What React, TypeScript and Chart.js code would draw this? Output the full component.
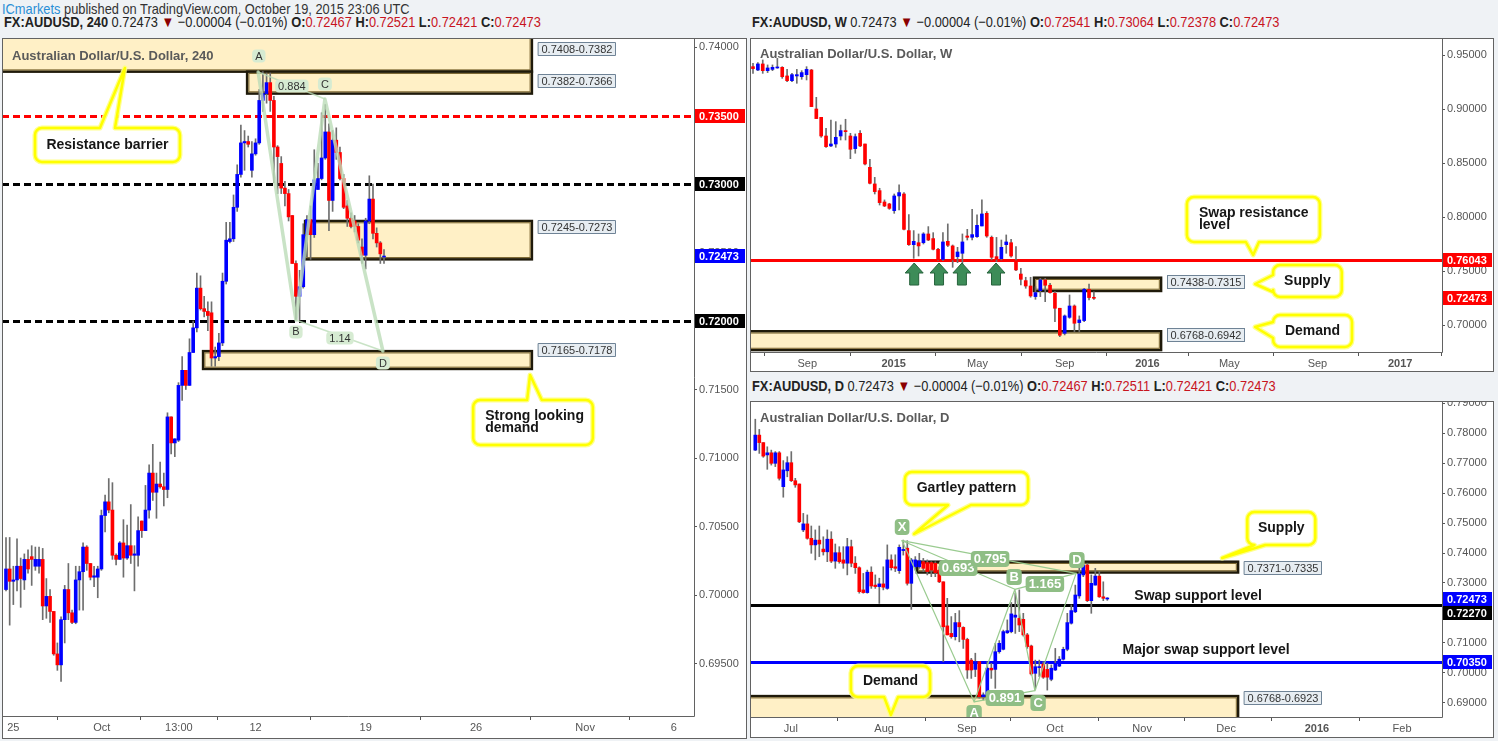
import { useEffect, useRef } from 'react';
import { Chart, registerables } from 'chart.js';

Chart.register(...registerables);

const SANS = "'Liberation Sans', Arial, sans-serif";
const UP = '#0000ff';
const DOWN = '#ff0000';
const WICK = '#6e6e6e';
const ZONE_FILL = '#fff0c6';
const ZONE_EDGE = '#1f1a0a';

// ---------------- 4H candles (Sep 24 - Oct 19, 2015) ----------------
const H4_OPEN = [
  0.7004, 0.7019, 0.7010, 0.7011, 0.7021, 0.7011, 0.7026, 0.7028, 0.7021, 0.7021,
  0.7026, 0.6992, 0.6999, 0.6988, 0.6957, 0.6949, 0.6982, 0.7004, 0.6987, 0.6980,
  0.7011, 0.7017, 0.7035, 0.7023, 0.7013, 0.7013, 0.7019, 0.7058, 0.7068, 0.7062,
  0.7029, 0.7026, 0.7038, 0.7027, 0.7036, 0.7029, 0.7029, 0.7054, 0.7047, 0.7062,
  0.7089, 0.7075, 0.7081, 0.7079, 0.7077, 0.7130, 0.7111, 0.7113, 0.7153, 0.7164,
  0.7153, 0.7177, 0.7195, 0.7224, 0.7209, 0.7207, 0.7206, 0.7173, 0.7174, 0.7184,
  0.7229, 0.7258, 0.7260, 0.7283, 0.7307, 0.7330, 0.7331, 0.7310, 0.7322, 0.7330,
  0.7361, 0.7366, 0.7374, 0.7361, 0.7327, 0.7315, 0.7297, 0.7293, 0.7277, 0.7242,
  0.7218, 0.7225, 0.7263, 0.7274, 0.7263, 0.7296, 0.7304, 0.7319, 0.7338, 0.7288,
  0.7332, 0.7323, 0.7304, 0.7284, 0.7275, 0.7273, 0.7269, 0.7254, 0.7248, 0.7273,
  0.7289, 0.7264, 0.7257, 0.72467,
];
const H4_HIGH = [
  0.7042, 0.7042, 0.7021, 0.7041, 0.7027, 0.7030, 0.7033, 0.7036, 0.7035, 0.7035,
  0.7034, 0.7012, 0.7004, 0.6988, 0.6965, 0.6984, 0.7007, 0.7023, 0.6989, 0.7021,
  0.7021, 0.7038, 0.7036, 0.7023, 0.7021, 0.7021, 0.7062, 0.7073, 0.7085, 0.7082,
  0.7030, 0.7039, 0.7055, 0.7051, 0.7066, 0.7036, 0.7057, 0.7054, 0.7080, 0.7095,
  0.7110, 0.7089, 0.7097, 0.7089, 0.7133, 0.7130, 0.7114, 0.7155, 0.7174, 0.7164,
  0.7187, 0.7200, 0.7235, 0.7233, 0.7218, 0.7214, 0.7214, 0.7181, 0.7191, 0.7235,
  0.7272, 0.7272, 0.7292, 0.7314, 0.7343, 0.7339, 0.7335, 0.7331, 0.7333, 0.7369,
  0.7382, 0.7381, 0.7381, 0.7364, 0.7328, 0.7320, 0.7302, 0.7296, 0.7277, 0.7244,
  0.7237, 0.7271, 0.7277, 0.7284, 0.7325, 0.7315, 0.7352, 0.7358, 0.7344, 0.7339,
  0.7341, 0.7327, 0.7307, 0.7288, 0.7279, 0.7277, 0.7271, 0.7260, 0.7275, 0.7306,
  0.7300, 0.7268, 0.7258, 0.72521,
];
const H4_LOW = [
  0.7003, 0.6978, 0.6993, 0.7003, 0.6991, 0.7004, 0.7016, 0.7007, 0.7018, 0.7016,
  0.6982, 0.6983, 0.6980, 0.6956, 0.6945, 0.6937, 0.6965, 0.6982, 0.6979, 0.6979,
  0.6989, 0.6989, 0.7018, 0.7011, 0.7006, 0.6998, 0.7018, 0.7046, 0.7060, 0.7026,
  0.7022, 0.7026, 0.7013, 0.7026, 0.7023, 0.7003, 0.7021, 0.7042, 0.7047, 0.7056,
  0.7069, 0.7056, 0.7078, 0.7065, 0.7071, 0.7103, 0.7101, 0.7112, 0.7142, 0.7150,
  0.7153, 0.7177, 0.7192, 0.7208, 0.7203, 0.7193, 0.7167, 0.7167, 0.7171, 0.7182,
  0.7227, 0.7257, 0.7258, 0.7280, 0.7305, 0.7310, 0.7327, 0.7305, 0.7321, 0.7329,
  0.7353, 0.7359, 0.7353, 0.7301, 0.7293, 0.7293, 0.7284, 0.7273, 0.7242, 0.7201,
  0.7201, 0.7224, 0.7247, 0.7245, 0.7261, 0.7296, 0.7303, 0.7318, 0.7266, 0.7280,
  0.7318, 0.7303, 0.7282, 0.7269, 0.7268, 0.7265, 0.7257, 0.7242, 0.7238, 0.7271,
  0.7260, 0.7254, 0.7242, 0.72421,
];
const H4_CLOSE = [
  0.7019, 0.7010, 0.7011, 0.7021, 0.7012, 0.7026, 0.7019, 0.7026, 0.7026, 0.7026,
  0.6992, 0.6999, 0.6988, 0.6957, 0.6949, 0.6982, 0.7004, 0.6987, 0.6980, 0.7011,
  0.7017, 0.7035, 0.7023, 0.7013, 0.7014, 0.7019, 0.7058, 0.7068, 0.7062, 0.7029,
  0.7026, 0.7038, 0.7027, 0.7036, 0.7029, 0.7030, 0.7047, 0.7047, 0.7062, 0.7089,
  0.7075, 0.7081, 0.7079, 0.7077, 0.7130, 0.7111, 0.7114, 0.7153, 0.7164, 0.7153,
  0.7177, 0.7195, 0.7224, 0.7209, 0.7207, 0.7204, 0.7173, 0.7174, 0.7184, 0.7229,
  0.7259, 0.7260, 0.7283, 0.7307, 0.7330, 0.7331, 0.7329, 0.7322, 0.7330, 0.7361,
  0.7366, 0.7374, 0.7361, 0.7327, 0.7320, 0.7297, 0.7293, 0.7276, 0.7242, 0.7218,
  0.7225, 0.7263, 0.7274, 0.7263, 0.7303, 0.7304, 0.7319, 0.7338, 0.7288, 0.7332,
  0.7323, 0.7304, 0.7283, 0.7275, 0.7269, 0.7269, 0.7259, 0.7248, 0.7273, 0.7289,
  0.7264, 0.7257, 0.7249, 0.72473,
];
const H4_TICK_POS = [2.0, 26.1, 47.1, 68.0, 98.0, 128.1, 157.8, 182.0];
const H4_TICK_LABELS = ['25', 'Oct', '13:00', '12', '19', '26', 'Nov', '6'];
const H4_PRICE_TICKS = [0.695, 0.7, 0.705, 0.71, 0.715, 0.72, 0.725, 0.73, 0.735, 0.74];

// ---------------- Weekly candles (Jul 2014 - Oct 2015) ----------------
const W_OPEN = [
  0.9392, 0.9361, 0.9417, 0.9355, 0.9367, 0.9380, 0.9386, 0.9306, 0.9262, 0.9306,
  0.9299, 0.9318, 0.9361, 0.9000, 0.8923, 0.8750, 0.8658, 0.8676, 0.8750, 0.8800,
  0.8750, 0.8633, 0.8775, 0.8676, 0.8460, 0.8306, 0.8244, 0.8139, 0.8121, 0.8059,
  0.8195, 0.8213, 0.7874, 0.7744, 0.7762, 0.7762, 0.7843, 0.7800, 0.7701, 0.7608,
  0.7775, 0.7732, 0.7633, 0.7664, 0.7824, 0.7812, 0.7818, 0.7917, 0.8034, 0.7812,
  0.7633, 0.7614, 0.7744, 0.7762, 0.7596, 0.7472, 0.7411, 0.7361, 0.7263, 0.7318,
  0.7417, 0.7368, 0.7294, 0.7155, 0.6923, 0.7071, 0.7176, 0.7022, 0.7041, 0.7331, 0.72541,
];
const W_HIGH = [
  0.9423, 0.9429, 0.9454, 0.9408, 0.9408, 0.9469, 0.9392, 0.9367, 0.9330, 0.9367,
  0.9355, 0.9392, 0.9367, 0.9108, 0.8923, 0.8821, 0.8898, 0.8883, 0.8852, 0.8905,
  0.8775, 0.8769, 0.8800, 0.8676, 0.8534, 0.8367, 0.8266, 0.8158, 0.8127, 0.8213,
  0.8297, 0.8226, 0.8022, 0.7874, 0.7843, 0.7855, 0.7911, 0.7855, 0.7710, 0.7855,
  0.7936, 0.7741, 0.7719, 0.7843, 0.7886, 0.8071, 0.8019, 0.8158, 0.8050, 0.7824,
  0.7811, 0.7787, 0.7834, 0.7793, 0.7726, 0.7525, 0.7442, 0.7442, 0.7355, 0.7432,
  0.7432, 0.7386, 0.7309, 0.7155, 0.7093, 0.7278, 0.7186, 0.7084, 0.7340, 0.7380, 0.73064,
];
const W_LOW = [
  0.9330, 0.9355, 0.9330, 0.9337, 0.9355, 0.9377, 0.9284, 0.9253, 0.9253, 0.9238,
  0.9275, 0.9269, 0.9022, 0.8911, 0.8738, 0.8645, 0.8651, 0.8645, 0.8713, 0.8713,
  0.8540, 0.8590, 0.8651, 0.8482, 0.8306, 0.8213, 0.8111, 0.8096, 0.8071, 0.8034,
  0.8065, 0.7880, 0.7738, 0.7617, 0.7639, 0.7750, 0.7781, 0.7695, 0.7596, 0.7596,
  0.7726, 0.7534, 0.7577, 0.7540, 0.7787, 0.7787, 0.7812, 0.7917, 0.7812, 0.7602,
  0.7587, 0.7602, 0.7664, 0.7627, 0.7503, 0.7371, 0.7340, 0.7257, 0.7238, 0.7263,
  0.7216, 0.7294, 0.7031, 0.6892, 0.6908, 0.7062, 0.6939, 0.6939, 0.7031, 0.7232, 0.72378,
];
const W_CLOSE = [
  0.9374, 0.9417, 0.9355, 0.9380, 0.9386, 0.9386, 0.9299, 0.9262, 0.9318, 0.9318,
  0.9337, 0.9367, 0.9022, 0.8911, 0.8750, 0.8651, 0.8676, 0.8738, 0.8800, 0.8790,
  0.8627, 0.8744, 0.8658, 0.8491, 0.8312, 0.8235, 0.8133, 0.8102, 0.8080, 0.8195,
  0.8226, 0.7886, 0.7744, 0.7775, 0.7732, 0.7843, 0.7787, 0.7701, 0.7602, 0.7769,
  0.7738, 0.7602, 0.7676, 0.7769, 0.7812, 0.7837, 0.7923, 0.8028, 0.7824, 0.7627,
  0.7608, 0.7719, 0.7769, 0.7639, 0.7510, 0.7423, 0.7361, 0.7269, 0.7300, 0.7417,
  0.7368, 0.7300, 0.7155, 0.6905, 0.7084, 0.7176, 0.7016, 0.7047, 0.7331, 0.7254, 0.72473,
];
const W_TICK_POS = [11.15, 28.9, 46.1, 64.0, 81.0, 97.8, 115.9, 132.9];
const W_TICK_LABELS = ['Sep', '2015', 'May', 'Sep', '2016', 'May', 'Sep', '2017'];
const W_PRICE_TICKS = [0.7, 0.75, 0.8, 0.85, 0.9, 0.95];

// ---------------- Daily candles (Jun 22 - Oct 19, 2015) ----------------
const D_OPEN = [
  0.7743, 0.7793, 0.7768, 0.7727, 0.7734, 0.7699, 0.7734, 0.7621, 0.7674, 0.7701,
  0.7641, 0.7630, 0.7477, 0.7497, 0.7449, 0.7427, 0.7443, 0.7413, 0.7404, 0.7446,
  0.7373, 0.7401, 0.7377, 0.7366, 0.7421, 0.7366, 0.7351, 0.7277, 0.7268, 0.7336,
  0.7293, 0.7288, 0.7297, 0.7282, 0.7377, 0.7354, 0.7341, 0.7408, 0.7416, 0.7299,
  0.7354, 0.7354, 0.7371, 0.7368, 0.7368, 0.7366, 0.7343, 0.7304, 0.7157, 0.7132,
  0.7121, 0.7168, 0.7152, 0.7112, 0.7043, 0.7012, 0.7038, 0.6921, 0.6923, 0.7016,
  0.7012, 0.7071, 0.7079, 0.7134, 0.7138, 0.7186, 0.7182, 0.7179, 0.7127, 0.7090,
  0.6999, 0.7018, 0.7030, 0.7012, 0.6979, 0.7010, 0.7023, 0.7046, 0.7079, 0.7166,
  0.7204, 0.7257, 0.7327, 0.7360, 0.7241, 0.7293, 0.7323, 0.7254, 0.72467,
];
const D_HIGH = [
  0.7846, 0.7812, 0.7768, 0.7754, 0.7743, 0.7738, 0.7738, 0.7708, 0.7721, 0.7738,
  0.7649, 0.7630, 0.7532, 0.7527, 0.7490, 0.7477, 0.7490, 0.7454, 0.7477, 0.7471,
  0.7430, 0.7421, 0.7421, 0.7449, 0.7443, 0.7388, 0.7354, 0.7332, 0.7343, 0.7354,
  0.7327, 0.7316, 0.7354, 0.7427, 0.7394, 0.7394, 0.7427, 0.7443, 0.7441, 0.7382,
  0.7388, 0.7399, 0.7382, 0.7377, 0.7371, 0.7371, 0.7354, 0.7304, 0.7249, 0.7188,
  0.7199, 0.7208, 0.7154, 0.7116, 0.7049, 0.7066, 0.7038, 0.6934, 0.7038, 0.7032,
  0.7099, 0.7108, 0.7143, 0.7177, 0.7235, 0.7267, 0.7277, 0.7199, 0.7132, 0.7093,
  0.7043, 0.7043, 0.7038, 0.7032, 0.7027, 0.7082, 0.7055, 0.7086, 0.7199, 0.7227,
  0.7293, 0.7354, 0.7379, 0.7366, 0.7327, 0.7349, 0.7338, 0.7304, 0.72511,
];
const D_LOW = [
  0.7741, 0.7732, 0.7719, 0.7679, 0.7693, 0.7688, 0.7643, 0.7586, 0.7654, 0.7638,
  0.7619, 0.7501, 0.7471, 0.7446, 0.7399, 0.7377, 0.7388, 0.7393, 0.7371, 0.7368,
  0.7349, 0.7366, 0.7349, 0.7327, 0.7354, 0.7332, 0.7266, 0.7266, 0.7266, 0.7282,
  0.7282, 0.7232, 0.7277, 0.7279, 0.7343, 0.7338, 0.7332, 0.7393, 0.7293, 0.7212,
  0.7343, 0.7349, 0.7338, 0.7327, 0.7321, 0.7321, 0.7301, 0.7038, 0.7127, 0.7116,
  0.7110, 0.7104, 0.7082, 0.6982, 0.6982, 0.6988, 0.6916, 0.6910, 0.6921, 0.6982,
  0.6949, 0.7066, 0.7077, 0.7132, 0.7134, 0.7132, 0.7138, 0.7123, 0.7082, 0.6993,
  0.6946, 0.6988, 0.6982, 0.6943, 0.6974, 0.7008, 0.7021, 0.7043, 0.7074, 0.7163,
  0.7201, 0.7249, 0.7321, 0.7238, 0.7199, 0.7293, 0.7252, 0.7241, 0.72421,
];
const D_CLOSE = [
  0.7793, 0.7768, 0.7723, 0.7734, 0.7699, 0.7734, 0.7649, 0.7677, 0.7701, 0.7641,
  0.7627, 0.7504, 0.7497, 0.7449, 0.7427, 0.7443, 0.7430, 0.7404, 0.7446, 0.7373,
  0.7401, 0.7371, 0.7366, 0.7421, 0.7366, 0.7351, 0.7271, 0.7268, 0.7336, 0.7290,
  0.7288, 0.7297, 0.7286, 0.7377, 0.7351, 0.7349, 0.7419, 0.7412, 0.7299, 0.7377,
  0.7377, 0.7374, 0.7349, 0.7338, 0.7343, 0.7334, 0.7304, 0.7154, 0.7127, 0.7121,
  0.7168, 0.7154, 0.7112, 0.7010, 0.7010, 0.7038, 0.6921, 0.6927, 0.7016, 0.7010,
  0.7071, 0.7099, 0.7138, 0.7141, 0.7197, 0.7193, 0.7160, 0.7127, 0.7088, 0.6997,
  0.7021, 0.7021, 0.6986, 0.6986, 0.7016, 0.7032, 0.7046, 0.7079, 0.7168, 0.7208,
  0.7260, 0.7330, 0.7360, 0.7241, 0.7299, 0.7323, 0.7254, 0.7249, 0.72473,
];
const D_TICK_POS = [8.9, 32.2, 52.9, 74.9, 96.7, 117.7, 140.4, 161.7];
const D_TICK_LABELS = ['Jul', 'Aug', 'Sep', 'Oct', 'Nov', 'Dec', '2016', 'Feb'];
const D_PRICE_TICKS = [0.69, 0.7, 0.71, 0.72, 0.73, 0.74, 0.75, 0.76, 0.77, 0.78, 0.79];

// ---------------- header texts ----------------
const HEADER_240 = ['FX:AUDUSD, 240', '0.72467', '0.72521', '0.72421', '0.72473'];
const HEADER_W = ['FX:AUDUSD, W', '0.72541', '0.73064', '0.72378', '0.72473'];
const HEADER_D = ['FX:AUDUSD, D', '0.72467', '0.72511', '0.72421', '0.72473'];

type XY = [number, number];

interface Panel {
  title: string;
  open: number[]; high: number[]; low: number[]; close: number[];
  xRange: XY; yRange: XY;
  xTicks: number[]; xLabels: string[]; boldLabels: string[];
  yTicks: number[];
  axisW: number; axisH: number; bodyW: number; titleDy: number;
  zones: any[]; hlines: any[]; badges: any[]; callouts: any[];
  tags: any[]; tagStyle: any; polys: any[]; texts: any[]; rects: any[]; arrows: any[];
}

const PANEL_240: Panel = {
  title: 'Australian Dollar/U.S. Dollar, 240',
  open: H4_OPEN, high: H4_HIGH, low: H4_LOW, close: H4_CLOSE,
  xRange: [-1.09, 187.47], yRange: [0.691168, 0.740657],
  xTicks: H4_TICK_POS, xLabels: H4_TICK_LABELS, boldLabels: [],
  yTicks: H4_PRICE_TICKS,
  axisW: 53, axisH: 23, bodyW: 3, titleDy: 18,
  rects: [{ x0: 56.9, x1: 68.1, top: 0.74002, bottom: 0.73888, color: '#ffe25c' }],
  zones: [
    { x0: null, x1: 143.3, top: 0.7408, bottom: 0.7382, label: '0.7408-0.7382', labelAt: 0.73985 },
    { x0: 65.7, x1: 143.3, top: 0.7382, bottom: 0.7366, label: '0.7382-0.7366', labelAt: 0.73752 },
    { x0: 81.5, x1: 143.3, top: 0.7273, bottom: 0.7245, label: '0.7245-0.7273', labelAt: 0.72686 },
    { x0: 53.7, x1: 143.3, top: 0.7178, bottom: 0.7165, label: '0.7165-0.7178', labelAt: 0.71788 },
  ],
  hlines: [
    { price: 0.735, color: '#ff0000', width: 3, dash: [7, 4] },
    { price: 0.73, color: '#000000', width: 3, dash: [7, 4] },
    { price: 0.72, color: '#000000', width: 3, dash: [7, 4] },
  ],
  badges: [
    { price: 0.735, text: '0.73500', bg: '#ff0000' },
    { price: 0.73, text: '0.73000', bg: '#000000' },
    { price: 0.72473, text: '0.72473', bg: '#0000ff' },
    { price: 0.72, text: '0.72000', bg: '#000000' },
  ],
  polys: [
    { pts: [[68.7, 0.73818], [79.0, 0.72007], [86.9, 0.7362], [102.7, 0.71781]], color: 'rgba(188,220,184,0.8)', width: 3.5 },
    { pts: [[68.7, 0.73818], [86.9, 0.7362]], color: 'rgba(188,220,184,0.8)', width: 1.5 },
    { pts: [[79.0, 0.72007], [102.7, 0.71781]], color: 'rgba(188,220,184,0.8)', width: 1.5 },
  ],
  tags: [
    { at: [68.9, 0.73934], text: 'A' },
    { at: [79.0, 0.7192], text: 'B' },
    { at: [86.9, 0.7373], text: 'C' },
    { at: [102.7, 0.71693], text: 'D' },
    { at: [77.9, 0.73715], text: '0.884' },
    { at: [91.0, 0.71876], text: '1.14' },
  ],
  tagStyle: { font: `11px ${SANS}`, bg: '#d6ebd2', color: '#333333', h: 13, padX: 3 },
  callouts: [
    { box: [7.9, 47.4, 0.73409, 0.73161], side: 'top', base: [25.6, 29.7], tip: [32.4, 0.73847], lines: ['Resistance barrier'], align: 'center' },
    { box: [127.3, 159.9, 0.71423, 0.71095], side: 'top', base: [142.0, 146.0], tip: [142.8, 0.71606], lines: ['Strong looking', 'demand'], align: 'left' },
  ],
  texts: [],
  arrows: [],
};

const PANEL_W: Panel = {
  title: 'Australian Dollar/U.S. Dollar, W',
  open: W_OPEN, high: W_HIGH, low: W_LOW, close: W_CLOSE,
  xRange: [-0.616, 141.48], yRange: [0.675, 0.965741],
  xTicks: W_TICK_POS, xLabels: W_TICK_LABELS, boldLabels: ['2015', '2016', '2017'],
  yTicks: W_PRICE_TICKS,
  axisW: 52, axisH: 20, bodyW: 3, titleDy: 16,
  rects: [],
  zones: [
    { x0: 57.7, x1: 83.8, top: 0.7438, bottom: 0.7315, label: '0.7438-0.7315', labelAt: 0.74 },
    { x0: null, x1: 83.8, top: 0.6942, bottom: 0.6768, label: '0.6768-0.6942', labelAt: 0.6907 },
  ],
  hlines: [{ price: 0.76043, color: '#ff0000', width: 3, dash: [] }],
  badges: [
    { price: 0.76043, text: '0.76043', bg: '#ff0000' },
    { price: 0.72473, text: '0.72473', bg: '#ff0000' },
  ],
  polys: [],
  tags: [],
  tagStyle: null,
  callouts: [
    { box: [89.1, 116.4, 0.81852, 0.77685], side: 'bottom', base: [101.2, 103.9], tip: [102.7, 0.76481], lines: ['Swap resistance', 'level'], align: 'left' },
    { box: [106.8, 120.9, 0.75556, 0.72593], side: 'left', base: [0.7463, 0.73056], tip: [103.1, 0.73796], lines: ['Supply'], align: 'center' },
    { box: [106.8, 123.0, 0.70926, 0.67963], side: 'left', base: [0.70278, 0.68796], tip: [103.1, 0.69815], lines: ['Demand'], align: 'center' },
  ],
  texts: [],
  arrows: [
    { x: 33.1, tip: 0.7574, base: 0.737 },
    { x: 38.2, tip: 0.7574, base: 0.737 },
    { x: 42.9, tip: 0.7574, base: 0.737 },
    { x: 49.9, tip: 0.7574, base: 0.737 },
  ],
};

const GX: XY = [36.7, 0.7441];
const GA: XY = [54.7, 0.6904];
const GB: XY = [64.9, 0.7279];
const GC: XY = [69.9, 0.6941];
const GD: XY = [80.2, 0.7332];
const GREEN_LINE = '#9acb90';

const PANEL_D: Panel = {
  title: 'Australian Dollar/U.S. Dollar, D',
  open: D_OPEN, high: D_HIGH, low: D_LOW, close: D_CLOSE,
  xRange: [-1.325, 171.675], yRange: [0.685333, 0.790667],
  xTicks: D_TICK_POS, xLabels: D_TICK_LABELS, boldLabels: ['2016'],
  yTicks: D_PRICE_TICKS,
  axisW: 52, axisH: 21, bodyW: 3, titleDy: 17,
  rects: [],
  zones: [
    { x0: 40.4, x1: 120.7, top: 0.7371, bottom: 0.7335, label: '0.7371-0.7335', labelAt: 0.735 },
    { x0: null, x1: 120.7, top: 0.6923, bottom: 0.6768, label: '0.6768-0.6923', labelAt: 0.6917 },
  ],
  hlines: [
    { price: 0.7227, color: '#000000', width: 3, dash: [] },
    { price: 0.7035, color: '#0000ff', width: 3, dash: [] },
  ],
  badges: [
    { price: 0.72473, text: '0.72473', bg: '#0000ff' },
    { price: 0.7227, text: '0.72270', bg: '#000000' },
    { price: 0.7035, text: '0.70350', bg: '#0000ff' },
  ],
  polys: [
    { pts: [GX, GA, GB, GC, GD], color: GREEN_LINE, width: 1.2 },
    { pts: [GX, GB, GD], color: GREEN_LINE, width: 1.2 },
    { pts: [GX, GD], color: GREEN_LINE, width: 1.2 },
    { pts: [GA, GC], color: GREEN_LINE, width: 1.2 },
  ],
  tags: [
    { at: [36.7, 0.74867], text: 'X' },
    { at: [50.7, 0.735], text: '0.693' },
    { at: [58.7, 0.738], text: '0.795' },
    { at: [64.7, 0.732], text: 'B' },
    { at: [72.4, 0.72967], text: '1.165' },
    { at: [80.4, 0.73767], text: 'D' },
    { at: [62.4, 0.69167], text: '0.891' },
    { at: [70.7, 0.69], text: 'C' },
    { at: [54.7, 0.68667], text: 'A' },
  ],
  tagStyle: { font: `bold 13px ${SANS}`, bg: '#8fbe85', color: '#ffffff', h: 16, padX: 3 },
  callouts: [
    { box: [37.4, 68.2, 0.767, 0.756], side: 'bottom', base: [48.2, 53.9], tip: [39.7, 0.74633], lines: ['Gartley pattern'], align: 'center' },
    { box: [123.0, 140.0, 0.75367, 0.74267], side: 'bottom', base: [124.8, 127.5], tip: [116.7, 0.73833], lines: ['Supply'], align: 'center' },
    { box: [23.9, 43.7, 0.70233, 0.692], side: 'bottom', base: [32.2, 35.7], tip: [33.9, 0.686], lines: ['Demand'], align: 'center' },
  ],
  texts: [
    { at: [110.7, 0.72567], text: 'Swap support level' },
    { at: [112.7, 0.70767], text: 'Major swap support level' },
  ],
  arrows: [],
};

function drawCallout(ctx: CanvasRenderingContext2D, sx: (v: number) => number, sy: (v: number) => number, c: any) {
  const L = sx(c.box[0]);
  const R = sx(c.box[1]);
  const T = sy(c.box[2]);
  const B = sy(c.box[3]);
  const r = 7;
  const tx = sx(c.tip[0]);
  const ty = sy(c.tip[1]);
  ctx.beginPath();
  ctx.moveTo(L + r, T);
  if (c.side === 'top') {
    const a = sx(c.base[0]);
    const b = sx(c.base[1]);
    ctx.lineTo(Math.min(a, b), T);
    ctx.lineTo(tx, ty);
    ctx.lineTo(Math.max(a, b), T);
  }
  ctx.lineTo(R - r, T);
  ctx.arcTo(R, T, R, T + r, r);
  ctx.lineTo(R, B - r);
  ctx.arcTo(R, B, R - r, B, r);
  if (c.side === 'bottom') {
    const a = sx(c.base[0]);
    const b = sx(c.base[1]);
    ctx.lineTo(Math.max(a, b), B);
    ctx.lineTo(tx, ty);
    ctx.lineTo(Math.min(a, b), B);
  }
  ctx.lineTo(L + r, B);
  ctx.arcTo(L, B, L, B - r, r);
  if (c.side === 'left') {
    const a = sy(c.base[0]);
    const b = sy(c.base[1]);
    ctx.lineTo(L, Math.max(a, b));
    ctx.lineTo(tx, ty);
    ctx.lineTo(L, Math.min(a, b));
  }
  ctx.lineTo(L, T + r);
  ctx.arcTo(L, T, L + r, T, r);
  ctx.closePath();
  ctx.fillStyle = '#ffffff';
  ctx.fill();
  ctx.lineJoin = 'round';
  ctx.strokeStyle = 'rgba(255,255,130,0.9)';
  ctx.lineWidth = 5;
  ctx.stroke();
  ctx.strokeStyle = '#ffff00';
  ctx.lineWidth = 2.5;
  ctx.stroke();

  ctx.font = `bold 14px ${SANS}`;
  ctx.fillStyle = '#161616';
  ctx.textBaseline = 'middle';
  const lh = 12;
  const cy = (T + B) / 2 - ((c.lines.length - 1) * lh) / 2;
  c.lines.forEach((line: string, i: number) => {
    if (c.align === 'center') {
      ctx.textAlign = 'center';
      ctx.fillText(line, (L + R) / 2, cy + i * lh);
    } else {
      ctx.textAlign = 'left';
      ctx.fillText(line, L + 12, cy + i * lh);
    }
  });
}

function makePlugin(p: Panel) {
  return {
    id: 'annot',
    beforeDraw(chart: any) {
      const ctx = chart.ctx;
      ctx.save();
      ctx.fillStyle = '#ffffff';
      ctx.fillRect(0, 0, chart.width, chart.height);
      ctx.restore();
    },
    beforeDatasetsDraw(chart: any) {
      const ctx: CanvasRenderingContext2D = chart.ctx;
      const area = chart.chartArea;
      const sx = (v: number) => chart.scales.x.getPixelForValue(v);
      const sy = (v: number) => chart.scales.y.getPixelForValue(v);
      ctx.save();
      ctx.beginPath();
      ctx.rect(area.left, area.top, area.right - area.left, area.bottom - area.top);
      ctx.clip();
      p.rects.forEach((r: any) => {
        ctx.fillStyle = r.color;
        ctx.fillRect(sx(r.x0), sy(r.top), sx(r.x1) - sx(r.x0), sy(r.bottom) - sy(r.top));
      });
      p.zones.forEach((z: any) => {
        const L = z.x0 === null ? area.left - 4 : sx(z.x0);
        const R = sx(z.x1);
        const T = sy(z.top);
        const B = sy(z.bottom);
        ctx.fillStyle = ZONE_FILL;
        ctx.fillRect(L, T, R - L, B - T);
        ctx.strokeStyle = ZONE_EDGE;
        ctx.lineWidth = 2.5;
        ctx.strokeRect(L, T, R - L, B - T);
        ctx.strokeStyle = '#7a6530';
        ctx.lineWidth = 1;
        ctx.strokeRect(L + 1.8, T + 1.8, R - L - 3.6, B - T - 3.6);
      });
      p.hlines.forEach((h: any) => {
        const y = Math.round(sy(h.price)) + 0.5;
        ctx.setLineDash(h.dash);
        ctx.strokeStyle = h.color;
        ctx.lineWidth = h.width;
        ctx.beginPath();
        ctx.moveTo(area.left, y);
        ctx.lineTo(area.right, y);
        ctx.stroke();
      });
      ctx.setLineDash([]);
      ctx.restore();
    },
    afterDatasetsDraw(chart: any) {
      const ctx: CanvasRenderingContext2D = chart.ctx;
      const area = chart.chartArea;
      const sx = (v: number) => chart.scales.x.getPixelForValue(v);
      const sy = (v: number) => chart.scales.y.getPixelForValue(v);
      ctx.save();
      ctx.beginPath();
      ctx.rect(area.left, area.top, area.right - area.left, area.bottom - area.top);
      ctx.clip();
      p.polys.forEach((pl: any) => {
        ctx.strokeStyle = pl.color;
        ctx.lineWidth = pl.width;
        ctx.lineJoin = 'round';
        ctx.lineCap = 'round';
        ctx.beginPath();
        pl.pts.forEach((pt: XY, i: number) => {
          if (i === 0) ctx.moveTo(sx(pt[0]), sy(pt[1]));
          else ctx.lineTo(sx(pt[0]), sy(pt[1]));
        });
        ctx.stroke();
      });
      if (p.tagStyle) {
        const ts = p.tagStyle;
        ctx.font = ts.font;
        ctx.textAlign = 'center';
        ctx.textBaseline = 'middle';
        p.tags.forEach((t: any) => {
          const w = ctx.measureText(t.text).width + ts.padX * 2;
          const cx = sx(t.at[0]);
          const cy = sy(t.at[1]);
          ctx.fillStyle = ts.bg;
          ctx.beginPath();
          (ctx as any).roundRect(cx - w / 2, cy - ts.h / 2, w, ts.h, 4);
          ctx.fill();
          ctx.fillStyle = ts.color;
          ctx.fillText(t.text, cx, cy + 0.5);
        });
      }
      p.arrows.forEach((a: any) => {
        const cx = sx(a.x);
        const ty = sy(a.tip);
        const by = sy(a.base);
        const hh = 10;
        ctx.beginPath();
        ctx.moveTo(cx, ty);
        ctx.lineTo(cx + 9, ty + hh);
        ctx.lineTo(cx + 4.5, ty + hh);
        ctx.lineTo(cx + 4.5, by);
        ctx.lineTo(cx - 4.5, by);
        ctx.lineTo(cx - 4.5, ty + hh);
        ctx.lineTo(cx - 9, ty + hh);
        ctx.closePath();
        ctx.fillStyle = '#3d8c58';
        ctx.fill();
        ctx.strokeStyle = '#27633c';
        ctx.lineWidth = 1;
        ctx.stroke();
      });
      ctx.font = `11px ${SANS}`;
      ctx.textAlign = 'left';
      ctx.textBaseline = 'middle';
      p.zones.forEach((z: any) => {
        const R = sx(z.x1);
        const tw = ctx.measureText(z.label).width;
        const bx = Math.round(R + 6);
        const by = Math.round(sy(z.labelAt));
        ctx.fillStyle = '#e7edf2';
        ctx.fillRect(bx, by - 7, Math.round(tw + 6), 14);
        ctx.strokeStyle = '#6f8396';
        ctx.lineWidth = 1;
        ctx.strokeRect(bx + 0.5, by - 6.5, Math.round(tw + 6), 13);
        ctx.fillStyle = '#333333';
        ctx.fillText(z.label, bx + 3.5, by + 0.5);
      });
      p.callouts.forEach((c: any) => drawCallout(ctx, sx, sy, c));
      ctx.font = `bold 14px ${SANS}`;
      ctx.fillStyle = '#161616';
      ctx.textAlign = 'center';
      ctx.textBaseline = 'middle';
      p.texts.forEach((t: any) => ctx.fillText(t.text, sx(t.at[0]), sy(t.at[1])));
      ctx.font = `bold 13px ${SANS}`;
      ctx.fillStyle = '#5a5a5a';
      ctx.textAlign = 'left';
      ctx.fillText(p.title, area.left + 10, area.top + p.titleDy);
      ctx.restore();
    },
    afterDraw(chart: any) {
      const ctx: CanvasRenderingContext2D = chart.ctx;
      const area = chart.chartArea;
      const sy = (v: number) => chart.scales.y.getPixelForValue(v);
      ctx.save();
      ctx.strokeStyle = '#626262';
      ctx.lineWidth = 1;
      ctx.strokeRect(0.5, 0.5, chart.width - 1, chart.height - 1);
      ctx.beginPath();
      ctx.moveTo(area.right + 0.5, 0);
      ctx.lineTo(area.right + 0.5, area.bottom + 0.5);
      ctx.lineTo(0, area.bottom + 0.5);
      ctx.stroke();
      const items = p.badges.map((b: any) => ({ ...b, y: sy(b.price) })).sort((a: any, b: any) => a.y - b.y);
      let prev = -1e9;
      ctx.font = `bold 11px ${SANS}`;
      ctx.textAlign = 'left';
      ctx.textBaseline = 'middle';
      items.forEach((b: any) => {
        let y = b.y;
        if (y < prev + 14) y = prev + 14;
        prev = y;
        ctx.fillStyle = b.bg;
        ctx.fillRect(area.right + 1, Math.round(y - 7), chart.width - area.right - 3, 14);
        ctx.fillStyle = '#ffffff';
        ctx.fillText(b.text, area.right + 5, Math.round(y) + 0.5);
      });
      ctx.restore();
    },
  };
}

function zeroPadding(s: any) {
  s.paddingTop = 0;
  s.paddingBottom = 0;
  s.paddingLeft = 0;
  s.paddingRight = 0;
}

function buildChart(canvas: HTMLCanvasElement, p: Panel) {
  const n = Math.min(p.open.length, p.high.length, p.low.length, p.close.length);
  const idx = Array.from({ length: n }, (_, i) => i);
  const wickData = idx.map((i) => ({
    x: i,
    y: [Math.min(p.low[i], p.open[i], p.close[i]), Math.max(p.high[i], p.open[i], p.close[i])],
  }));
  const bodyData = idx.map((i) => ({ x: i, y: [Math.min(p.open[i], p.close[i]), Math.max(p.open[i], p.close[i])] }));
  const bodyColors = idx.map((i) => (p.close[i] >= p.open[i] ? UP : DOWN));
  return new Chart(canvas, {
    type: 'bar',
    data: {
      datasets: [
        { data: bodyData as any, backgroundColor: bodyColors, barThickness: p.bodyW, grouped: false, order: 0, minBarLength: 1, borderWidth: 0 } as any,
        { data: wickData as any, backgroundColor: WICK, barThickness: 1, grouped: false, order: 1, borderWidth: 0 } as any,
      ],
    },
    options: {
      responsive: false,
      maintainAspectRatio: false,
      animation: false,
      devicePixelRatio: 1,
      events: [],
      layout: { padding: 0, autoPadding: false } as any,
      plugins: { legend: { display: false }, tooltip: { enabled: false } },
      scales: {
        x: {
          type: 'linear',
          position: 'bottom',
          min: p.xRange[0],
          max: p.xRange[1],
          offset: false,
          afterBuildTicks: (s: any) => { s.ticks = p.xTicks.map((v) => ({ value: v })); },
          afterFit: (s: any) => { s.height = p.axisH; zeroPadding(s); },
          grid: { display: true, drawOnChartArea: false, drawTicks: true, tickLength: 4, color: '#555555' },
          border: { display: false },
          ticks: {
            autoSkip: false,
            maxRotation: 0,
            minRotation: 0,
            padding: 1,
            color: '#555555',
            font: (ctx: any) => ({ family: SANS, size: 11, weight: p.boldLabels.includes(p.xLabels[ctx.index]) ? 'bold' : 'normal' }),
            callback: (_v: any, i: number) => p.xLabels[i] ?? '',
          },
        } as any,
        y: {
          type: 'linear',
          position: 'right',
          min: p.yRange[0],
          max: p.yRange[1],
          afterBuildTicks: (s: any) => { s.ticks = p.yTicks.map((v) => ({ value: v })); },
          afterFit: (s: any) => { s.width = p.axisW; zeroPadding(s); },
          grid: { display: true, drawOnChartArea: false, drawTicks: true, tickLength: 3, color: '#555555' },
          border: { display: false },
          ticks: {
            autoSkip: false,
            padding: 2,
            color: '#555555',
            font: { family: SANS, size: 11 },
            callback: (v: any) => Number(v).toFixed(5),
          },
        } as any,
      },
    },
    plugins: [makePlugin(p) as any],
  });
}

const HEAD_STYLE: any = {
  position: 'absolute',
  font: `15px ${SANS}`,
  color: '#222',
  whiteSpace: 'nowrap',
  lineHeight: '18px',
  transform: 'scaleX(0.855)',
  transformOrigin: 'left center',
};

function Header({ left, top, vals }: { left: number; top: number; vals: string[] }) {
  const red = '#c8141e';
  return (
    <div style={{ ...HEAD_STYLE, left, top }}>
      <b>{vals[0]}</b> 0.72473 <span style={{ color: '#8b0000' }}>▼</span> −0.00004 (−0.01%) <b>O:</b>
      <span style={{ color: red }}>{vals[1]}</span> <b>H:</b><span style={{ color: red }}>{vals[2]}</span> <b>L:</b>
      <span style={{ color: red }}>{vals[3]}</span> <b>C:</b><span style={{ color: red }}>{vals[4]}</span>
    </div>
  );
}

export default function App() {
  const r1 = useRef<HTMLCanvasElement>(null);
  const r2 = useRef<HTMLCanvasElement>(null);
  const r3 = useRef<HTMLCanvasElement>(null);
  useEffect(() => {
    const charts: Chart[] = [];
    if (r1.current) charts.push(buildChart(r1.current, PANEL_240));
    if (r2.current) charts.push(buildChart(r2.current, PANEL_W));
    if (r3.current) charts.push(buildChart(r3.current, PANEL_D));
    return () => charts.forEach((c) => c.destroy());
  }, []);
  return (
    <div style={{ position: 'fixed', left: 0, top: 0, width: 1498, height: 741, background: '#eff2f5', overflow: 'hidden' }}>
      <div style={{ ...HEAD_STYLE, left: 2, top: 0, color: '#333' }}>
        <span style={{ color: '#2b8fd6' }}>ICmarkets</span> published on TradingView.com, October 19, 2015 23:06 UTC
      </div>
      <Header left={4} top={13} vals={HEADER_240} />
      <Header left={752} top={13} vals={HEADER_W} />
      <Header left={752} top={377} vals={HEADER_D} />
      <canvas ref={r1} width={745} height={701} style={{ position: 'absolute', left: 2, top: 38 }} />
      <canvas ref={r2} width={744} height={334} style={{ position: 'absolute', left: 750, top: 38 }} />
      <canvas ref={r3} width={744} height={337} style={{ position: 'absolute', left: 750, top: 401 }} />
    </div>
  );
}
